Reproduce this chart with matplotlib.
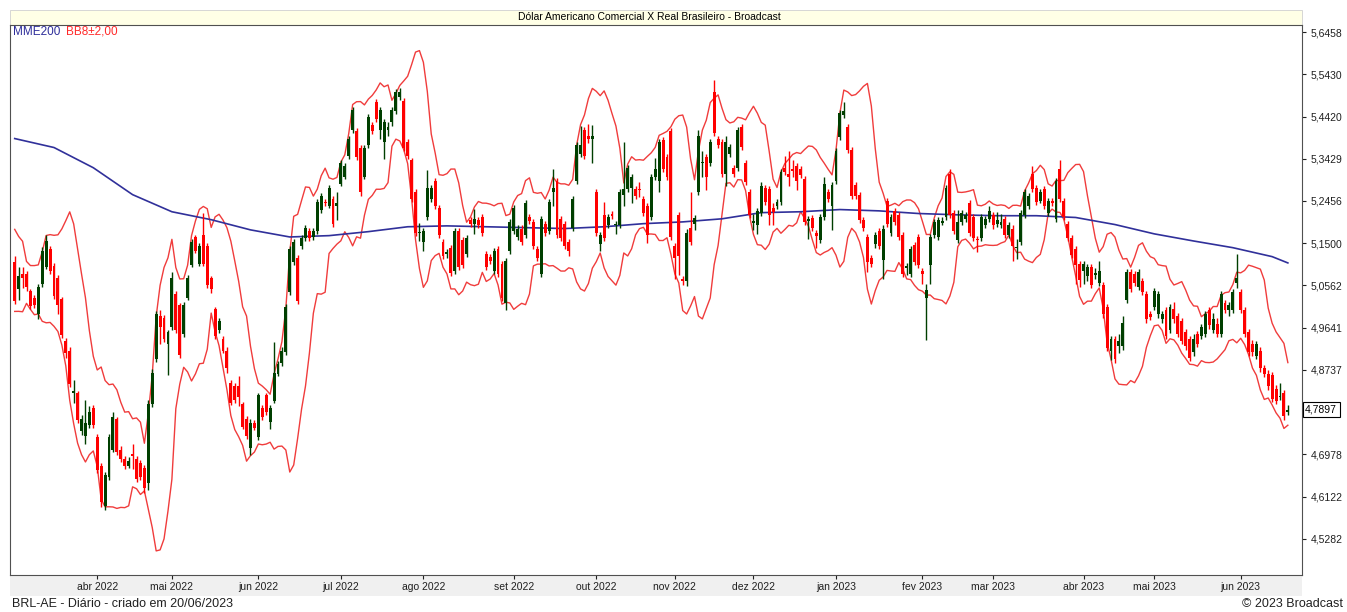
import numpy as np
import pandas as pd
import matplotlib
matplotlib.use("Agg")
import matplotlib.pyplot as plt
from matplotlib.patches import Rectangle
from matplotlib.ticker import FixedLocator, FixedFormatter, NullLocator

# daily candles, 03/03/2022 .. 20/06/2023
opens = [
    5.108, 5.048, 5.082, 5.082, 5.044, 5.029, 4.993, 5.059, 5.097, 5.137,
    5.099, 5.073, 5.026, 4.935, 4.915, 4.824, 4.824, 4.745, 4.736, 4.759,
    4.793, 4.734, 4.675, 4.594, 4.652, 4.707, 4.770, 4.707, 4.689, 4.675,
    4.698, 4.689, 4.681, 4.670, 4.640, 4.801, 4.896, 4.989, 4.985, 4.930,
    4.965, 5.037, 5.013, 4.950, 5.029, 5.101, 5.164, 5.104, 5.169, 5.144,
    5.073, 5.004, 4.959, 4.939, 4.915, 4.847, 4.839, 4.839, 4.801, 4.771,
    4.711, 4.763, 4.734, 4.793, 4.820, 4.765, 4.809, 4.866, 4.888, 4.911,
    5.042, 5.108, 5.117, 5.144, 5.162, 5.178, 5.164, 5.178, 5.226, 5.244,
    5.235, 5.251, 5.235, 5.285, 5.301, 5.350, 5.411, 5.407, 5.369, 5.301,
    5.376, 5.423, 5.476, 5.411, 5.381, 5.411, 5.428, 5.454, 5.488, 5.478,
    5.381, 5.339, 5.267, 5.172, 5.153, 5.210, 5.251, 5.292, 5.230, 5.153,
    5.126, 5.139, 5.088, 5.178, 5.158, 5.126, 5.203, 5.194, 5.203, 5.210,
    5.126, 5.119, 5.088, 5.137, 5.104, 5.018, 5.133, 5.178, 5.164, 5.183,
    5.169, 5.210, 5.198, 5.137, 5.082, 5.194, 5.178, 5.267, 5.292, 5.205,
    5.194, 5.153, 5.185, 5.292, 5.355, 5.411, 5.395, 5.390, 5.267, 5.148,
    5.214, 5.192, 5.216, 5.190, 5.192, 5.260, 5.272, 5.276, 5.272, 5.274,
    5.249, 5.235, 5.210, 5.301, 5.292, 5.386, 5.348, 5.407, 5.144, 5.214,
    5.070, 5.066, 5.185, 5.194, 5.267, 5.332, 5.348, 5.334, 5.500, 5.390,
    5.381, 5.308, 5.355, 5.322, 5.322, 5.418, 5.334, 5.267, 5.196, 5.190,
    5.219, 5.276, 5.272, 5.230, 5.235, 5.244, 5.322, 5.308, 5.318, 5.327,
    5.318, 5.297, 5.201, 5.207, 5.172, 5.158, 5.210, 5.265, 5.233, 5.292,
    5.393, 5.445, 5.418, 5.364, 5.281, 5.260, 5.203, 5.164, 5.117, 5.148,
    5.178, 5.113, 5.246, 5.174, 5.223, 5.214, 5.169, 5.095, 5.082, 5.146,
    5.164, 5.088, 5.029, 5.101, 5.169, 5.164, 5.196, 5.210, 5.308, 5.219,
    5.158, 5.198, 5.205, 5.240, 5.210, 5.160, 5.162, 5.192, 5.205, 5.214,
    5.194, 5.192, 5.205, 5.169, 5.183, 5.140, 5.153, 5.214, 5.235, 5.308,
    5.276, 5.246, 5.272, 5.219, 5.246, 5.205, 5.318, 5.246, 5.194, 5.162,
    5.137, 5.104, 5.088, 5.077, 5.097, 5.080, 5.062, 5.057, 5.009, 4.915,
    4.939, 4.924, 4.924, 5.024, 5.086, 5.082, 5.053, 5.066, 5.037, 4.993,
    5.009, 4.993, 4.982, 5.002, 4.959, 5.004, 4.989, 4.978, 4.954, 4.939,
    4.911, 4.950, 4.946, 4.950, 5.002, 4.959, 4.972, 4.950, 5.018, 5.002,
    5.002, 5.062, 5.042, 5.002, 4.954, 4.930, 4.904, 4.915, 4.877, 4.866,
    4.862, 4.834, 4.816, 4.824, 4.786,
]
closes = [
    5.022, 5.077, 5.073, 5.053, 5.011, 5.013, 5.053, 5.133, 5.155, 5.088,
    5.033, 5.013, 4.948, 4.909, 4.843, 4.830, 4.769, 4.771, 4.763, 4.786,
    4.759, 4.666, 4.602, 4.656, 4.734, 4.775, 4.703, 4.689, 4.675, 4.685,
    4.695, 4.648, 4.652, 4.630, 4.801, 4.868, 4.993, 4.965, 4.939, 4.954,
    5.073, 4.959, 4.905, 5.013, 5.073, 5.153, 5.133, 5.144, 5.104, 5.057,
    5.048, 4.946, 4.978, 4.915, 4.877, 4.805, 4.811, 4.816, 4.755, 4.736,
    4.763, 4.753, 4.820, 4.774, 4.786, 4.793, 4.868, 4.886, 4.915, 5.009,
    5.137, 5.153, 5.022, 5.162, 5.185, 5.162, 5.178, 5.244, 5.256, 5.240,
    5.276, 5.194, 5.240, 5.334, 5.327, 5.390, 5.457, 5.348, 5.265, 5.369,
    5.440, 5.407, 5.435, 5.457, 5.428, 5.418, 5.457, 5.500, 5.500, 5.369,
    5.350, 5.251, 5.174, 5.174, 5.178, 5.276, 5.276, 5.235, 5.169, 5.122,
    5.130, 5.084, 5.178, 5.097, 5.101, 5.162, 5.194, 5.205, 5.192, 5.174,
    5.097, 5.110, 5.133, 5.082, 5.029, 5.110, 5.198, 5.230, 5.183, 5.153,
    5.240, 5.201, 5.144, 5.117, 5.205, 5.174, 5.244, 5.276, 5.169, 5.162,
    5.144, 5.133, 5.249, 5.376, 5.376, 5.350, 5.390, 5.395, 5.174, 5.169,
    5.162, 5.210, 5.212, 5.194, 5.267, 5.272, 5.322, 5.301, 5.256, 5.270,
    5.219, 5.169, 5.301, 5.318, 5.381, 5.318, 5.301, 5.164, 5.117, 5.122,
    5.066, 5.174, 5.153, 5.207, 5.397, 5.336, 5.301, 5.381, 5.402, 5.376,
    5.308, 5.381, 5.371, 5.308, 5.411, 5.371, 5.288, 5.214, 5.200, 5.223,
    5.279, 5.244, 5.214, 5.221, 5.244, 5.313, 5.313, 5.301, 5.315, 5.292,
    5.306, 5.198, 5.205, 5.185, 5.167, 5.210, 5.285, 5.251, 5.281, 5.360,
    5.450, 5.454, 5.364, 5.256, 5.256, 5.203, 5.185, 5.108, 5.104, 5.169,
    5.144, 5.183, 5.194, 5.210, 5.198, 5.164, 5.082, 5.099, 5.137, 5.108,
    5.101, 5.082, 5.046, 5.164, 5.198, 5.203, 5.200, 5.276, 5.214, 5.178,
    5.198, 5.219, 5.214, 5.174, 5.162, 5.157, 5.210, 5.205, 5.223, 5.190,
    5.203, 5.198, 5.169, 5.190, 5.144, 5.142, 5.219, 5.267, 5.256, 5.272,
    5.244, 5.267, 5.235, 5.246, 5.240, 5.292, 5.251, 5.210, 5.162, 5.124,
    5.101, 5.068, 5.104, 5.097, 5.057, 5.084, 5.088, 4.993, 4.920, 4.939,
    4.896, 4.935, 4.974, 5.086, 5.048, 5.062, 5.086, 5.042, 4.982, 4.987,
    5.044, 5.037, 4.993, 4.946, 5.009, 4.982, 4.950, 4.935, 4.924, 4.900,
    4.939, 4.930, 4.965, 4.993, 4.969, 4.982, 4.950, 5.037, 5.002, 5.013,
    5.042, 5.073, 5.002, 4.950, 4.911, 4.911, 4.928, 4.877, 4.866, 4.839,
    4.813, 4.809, 4.818, 4.776, 4.790,
]
highs = [
    5.121, 5.097, 5.097, 5.088, 5.048, 5.035, 5.059, 5.142, 5.169, 5.144,
    5.106, 5.079, 5.031, 4.941, 4.922, 4.853, 4.830, 4.780, 4.811, 4.797,
    4.799, 4.740, 4.681, 4.662, 4.740, 4.786, 4.775, 4.715, 4.695, 4.692,
    4.720, 4.695, 4.687, 4.676, 4.810, 4.875, 5.000, 5.002, 4.991, 4.960,
    5.086, 5.044, 5.018, 5.020, 5.080, 5.160, 5.169, 5.150, 5.219, 5.150,
    5.077, 5.010, 4.985, 4.946, 4.922, 4.853, 4.845, 4.860, 4.807, 4.777,
    4.770, 4.769, 4.826, 4.799, 4.826, 4.799, 4.933, 4.892, 4.922, 5.016,
    5.144, 5.160, 5.124, 5.168, 5.191, 5.185, 5.185, 5.251, 5.263, 5.251,
    5.283, 5.258, 5.267, 5.340, 5.334, 5.397, 5.464, 5.414, 5.376, 5.376,
    5.447, 5.430, 5.483, 5.464, 5.435, 5.428, 5.464, 5.507, 5.510, 5.485,
    5.388, 5.345, 5.274, 5.196, 5.185, 5.316, 5.283, 5.299, 5.237, 5.160,
    5.137, 5.146, 5.185, 5.185, 5.165, 5.169, 5.210, 5.228, 5.210, 5.217,
    5.133, 5.126, 5.140, 5.144, 5.110, 5.117, 5.205, 5.237, 5.190, 5.190,
    5.247, 5.217, 5.205, 5.144, 5.212, 5.201, 5.251, 5.318, 5.299, 5.212,
    5.201, 5.160, 5.256, 5.383, 5.420, 5.418, 5.425, 5.423, 5.274, 5.176,
    5.244, 5.217, 5.222, 5.200, 5.274, 5.381, 5.329, 5.308, 5.279, 5.290,
    5.256, 5.242, 5.308, 5.345, 5.388, 5.393, 5.355, 5.414, 5.151, 5.221,
    5.077, 5.181, 5.267, 5.214, 5.410, 5.360, 5.355, 5.388, 5.530, 5.397,
    5.388, 5.395, 5.378, 5.329, 5.418, 5.425, 5.341, 5.274, 5.215, 5.230,
    5.290, 5.283, 5.279, 5.240, 5.251, 5.320, 5.350, 5.360, 5.340, 5.334,
    5.325, 5.304, 5.212, 5.214, 5.180, 5.217, 5.300, 5.272, 5.288, 5.367,
    5.457, 5.476, 5.425, 5.371, 5.288, 5.267, 5.210, 5.171, 5.124, 5.176,
    5.185, 5.190, 5.253, 5.217, 5.230, 5.221, 5.176, 5.106, 5.144, 5.153,
    5.171, 5.095, 5.060, 5.171, 5.205, 5.210, 5.210, 5.283, 5.320, 5.226,
    5.226, 5.226, 5.221, 5.247, 5.217, 5.167, 5.217, 5.212, 5.235, 5.221,
    5.221, 5.215, 5.212, 5.197, 5.190, 5.160, 5.226, 5.274, 5.263, 5.325,
    5.283, 5.274, 5.279, 5.253, 5.253, 5.299, 5.340, 5.253, 5.201, 5.169,
    5.144, 5.110, 5.110, 5.104, 5.104, 5.095, 5.110, 5.064, 5.016, 4.946,
    4.946, 4.950, 4.990, 5.093, 5.093, 5.088, 5.093, 5.073, 5.044, 5.000,
    5.051, 5.044, 5.000, 5.009, 5.016, 5.020, 4.996, 4.985, 4.961, 4.946,
    4.950, 4.957, 4.972, 5.000, 5.009, 4.995, 4.985, 5.044, 5.025, 5.020,
    5.049, 5.125, 5.049, 5.009, 4.961, 4.937, 4.935, 4.922, 4.884, 4.873,
    4.869, 4.841, 4.845, 4.831, 4.800,
]
lows = [
    5.015, 5.024, 5.051, 5.044, 5.004, 5.007, 4.982, 5.053, 5.093, 5.082,
    5.026, 4.993, 4.941, 4.900, 4.837, 4.805, 4.763, 4.738, 4.720, 4.753,
    4.751, 4.660, 4.592, 4.586, 4.646, 4.703, 4.697, 4.683, 4.668, 4.670,
    4.668, 4.642, 4.646, 4.620, 4.625, 4.795, 4.890, 4.928, 4.933, 4.862,
    4.960, 4.952, 4.898, 4.944, 5.024, 5.097, 5.128, 5.099, 5.099, 5.051,
    5.040, 4.939, 4.952, 4.909, 4.868, 4.799, 4.805, 4.797, 4.749, 4.730,
    4.697, 4.747, 4.728, 4.768, 4.780, 4.749, 4.803, 4.860, 4.882, 4.905,
    5.035, 5.101, 5.015, 5.137, 5.156, 5.155, 5.158, 5.171, 5.219, 5.233,
    5.229, 5.187, 5.203, 5.279, 5.295, 5.343, 5.404, 5.341, 5.258, 5.295,
    5.369, 5.400, 5.428, 5.390, 5.343, 5.395, 5.420, 5.447, 5.481, 5.362,
    5.343, 5.244, 5.167, 5.155, 5.133, 5.203, 5.244, 5.228, 5.162, 5.115,
    5.117, 5.077, 5.082, 5.091, 5.095, 5.120, 5.187, 5.171, 5.185, 5.167,
    5.090, 5.104, 5.082, 5.075, 5.022, 5.003, 5.126, 5.171, 5.158, 5.146,
    5.162, 5.194, 5.137, 5.110, 5.075, 5.167, 5.171, 5.235, 5.162, 5.155,
    5.137, 5.122, 5.178, 5.285, 5.348, 5.343, 5.380, 5.332, 5.167, 5.133,
    5.155, 5.185, 5.205, 5.170, 5.185, 5.233, 5.265, 5.240, 5.249, 5.255,
    5.212, 5.150, 5.203, 5.294, 5.265, 5.311, 5.294, 5.157, 5.070, 5.080,
    5.058, 5.055, 5.146, 5.180, 5.260, 5.300, 5.270, 5.327, 5.395, 5.369,
    5.301, 5.280, 5.348, 5.301, 5.315, 5.364, 5.281, 5.207, 5.180, 5.170,
    5.212, 5.237, 5.190, 5.190, 5.228, 5.237, 5.306, 5.280, 5.300, 5.270,
    5.299, 5.191, 5.160, 5.178, 5.140, 5.150, 5.203, 5.244, 5.180, 5.285,
    5.386, 5.438, 5.357, 5.249, 5.249, 5.196, 5.178, 5.085, 5.097, 5.140,
    5.137, 5.070, 5.187, 5.167, 5.191, 5.157, 5.075, 5.080, 5.075, 5.101,
    5.095, 5.060, 4.937, 5.060, 5.162, 5.157, 5.190, 5.203, 5.207, 5.171,
    5.151, 5.191, 5.198, 5.167, 5.155, 5.130, 5.155, 5.185, 5.198, 5.183,
    5.187, 5.185, 5.162, 5.162, 5.110, 5.115, 5.146, 5.207, 5.228, 5.265,
    5.237, 5.240, 5.228, 5.212, 5.233, 5.198, 5.244, 5.203, 5.155, 5.117,
    5.060, 5.053, 5.060, 5.066, 5.050, 5.070, 5.055, 4.986, 4.913, 4.895,
    4.889, 4.910, 4.917, 5.018, 5.041, 5.055, 5.046, 5.035, 4.975, 4.980,
    5.002, 4.986, 4.975, 4.939, 4.952, 4.975, 4.943, 4.928, 4.917, 4.893,
    4.904, 4.923, 4.939, 4.943, 4.962, 4.952, 4.943, 4.943, 4.995, 4.990,
    4.995, 5.050, 4.995, 4.943, 4.904, 4.904, 4.897, 4.870, 4.859, 4.832,
    4.806, 4.802, 4.810, 4.769, 4.778,
]
# closes before the first visible candle (feed the first BB8 values)
closes_before = [5.14, 5.12, 5.16, 5.10, 5.06, 5.04, 5.08]

# MME200 read every 10 candles
mme200_days = list(range(0, 321, 10)) + [324]
mme200 = [5.390, 5.369, 5.322, 5.260, 5.221, 5.203, 5.180, 5.164, 5.167, 5.176,
          5.187, 5.189, 5.187, 5.185, 5.183, 5.187, 5.194, 5.198, 5.205, 5.219,
          5.221, 5.226, 5.223, 5.217, 5.214, 5.212, 5.212, 5.208, 5.192, 5.171,
          5.155, 5.140, 5.120, 5.106]

price_ticks = [4.5282, 4.6122, 4.6978, 4.8737, 4.9641, 5.0562, 5.1500,
               5.2456, 5.3429, 5.4420, 5.5430, 5.6458]
last_price = 4.7897
month_names = ["jan", "fev", "mar", "abr", "mai", "jun",
               "jul", "ago", "set", "out", "nov", "dez"]
holidays = ["2022-04-15", "2022-04-21", "2022-06-16", "2022-09-07",
            "2022-10-12", "2022-11-02", "2022-11-15", "2022-12-30",
            "2023-02-20", "2023-02-21", "2023-04-07", "2023-04-21",
            "2023-05-01", "2023-06-08"]

W, H = 1347, 612
GREEN = "#003f00"
RED = "#ff0000"

n = len(closes)
x = np.arange(n)
o = np.array(opens)
c = np.array(closes)
hi = np.array(highs)
lo = np.array(lows)

dates = pd.bdate_range(end="2023-06-20", periods=n, freq="C", holidays=holidays)

s = pd.Series(closes_before + closes)
mid = s.rolling(8).mean()
sd = s.rolling(8).std(ddof=0)
bb_up = (mid + 2 * sd).iloc[len(closes_before):].to_numpy()
bb_lo = (mid - 2 * sd).iloc[len(closes_before):].to_numpy()

plt.rcParams["font.family"] = ["Liberation Sans", "DejaVu Sans"]
fig = plt.figure(figsize=(W / 100, H / 100), dpi=100)

# title strip and date strip, behind the axes
fig.patches.append(Rectangle((10 / W, 1 - 25 / H), 1292 / W, 15 / H,
                             transform=fig.transFigure, facecolor="#ffffe6",
                             edgecolor="#d0d0d0", lw=0.6, zorder=-5))
fig.patches.append(Rectangle((10 / W, 1 - 596 / H), 1292 / W, 21 / H,
                             transform=fig.transFigure, facecolor="#f0f0f0",
                             edgecolor="none", zorder=-5))

ax = fig.add_axes([10 / W, 1 - 575 / H, 1292 / W, 550 / H])
ax.set_facecolor("white")

# bands and average
ax.plot(x, bb_up, color="#f03c3c", lw=1.0, zorder=2)
ax.plot(x, bb_lo, color="#f03c3c", lw=1.0, zorder=2)
ax.plot(mme200_days, mme200, color="#30309a", lw=1.2, zorder=2)

# candles
up = c >= o
cols = np.where(up, GREEN, RED)
ax.vlines(x, lo, hi, colors=cols, lw=1.0, zorder=3)
body_lo = np.minimum(o, c)
body_h = np.maximum(np.abs(c - o), 0.0025)
ax.bar(x, body_h, bottom=body_lo, width=0.74, color=cols, linewidth=0, zorder=4)

ax.set_yscale("log")
ax.set_ylim(4.4575, 5.6631)
ax.set_xlim(-1.2, 327.6)

ax.yaxis.tick_right()
ax.yaxis.set_major_locator(FixedLocator(price_ticks))
ax.yaxis.set_major_formatter(FixedFormatter([f"{v:.4f}".replace(".", ",") for v in price_ticks]))
ax.yaxis.set_minor_locator(NullLocator())
ax.tick_params(axis="y", which="major", direction="out", length=3, width=0.8,
               labelsize=7.5, pad=3, colors="#202020")

month_idx = [i for i in range(1, n) if dates[i].month != dates[i - 1].month]
month_lab = [f"{month_names[dates[i].month - 1]} {dates[i].year}" for i in month_idx]
ax.set_xticks(month_idx)
ax.set_xticklabels(month_lab)
ax.xaxis.set_minor_locator(NullLocator())
ax.tick_params(axis="x", direction="out", length=3, width=0.8, labelsize=7.5,
               pad=2, colors="#202020")

for sp in ax.spines.values():
    sp.set_color("#505050")
    sp.set_linewidth(0.8)

# last price box
ax.text(1.0025, last_price, "4,7897", transform=ax.get_yaxis_transform(),
        fontsize=7.5, va="center", ha="left", color="black", zorder=6,
        bbox=dict(boxstyle="square,pad=0.25", fc="white", ec="black", lw=0.8))

fig.text(649 / W, 1 - 17 / H, "Dólar Americano Comercial X Real Brasileiro - Broadcast",
         ha="center", va="center", fontsize=7.5, color="black")
fig.text(13 / W, 1 - 32 / H, "MME200", ha="left", va="center", fontsize=8.5, color="#2e2e9a")
fig.text(66 / W, 1 - 32 / H, "BB8±2,00", ha="left", va="center", fontsize=8.5, color="#ff2a2a")
fig.text(12 / W, 1 - 604 / H, "BRL-AE - Diário - criado em 20/06/2023",
         ha="left", va="center", fontsize=9, color="#202020")
fig.text(1343 / W, 1 - 604 / H, "© 2023 Broadcast",
         ha="right", va="center", fontsize=9, color="#202020")

fig.savefig("out.png", dpi=100, facecolor="white")
